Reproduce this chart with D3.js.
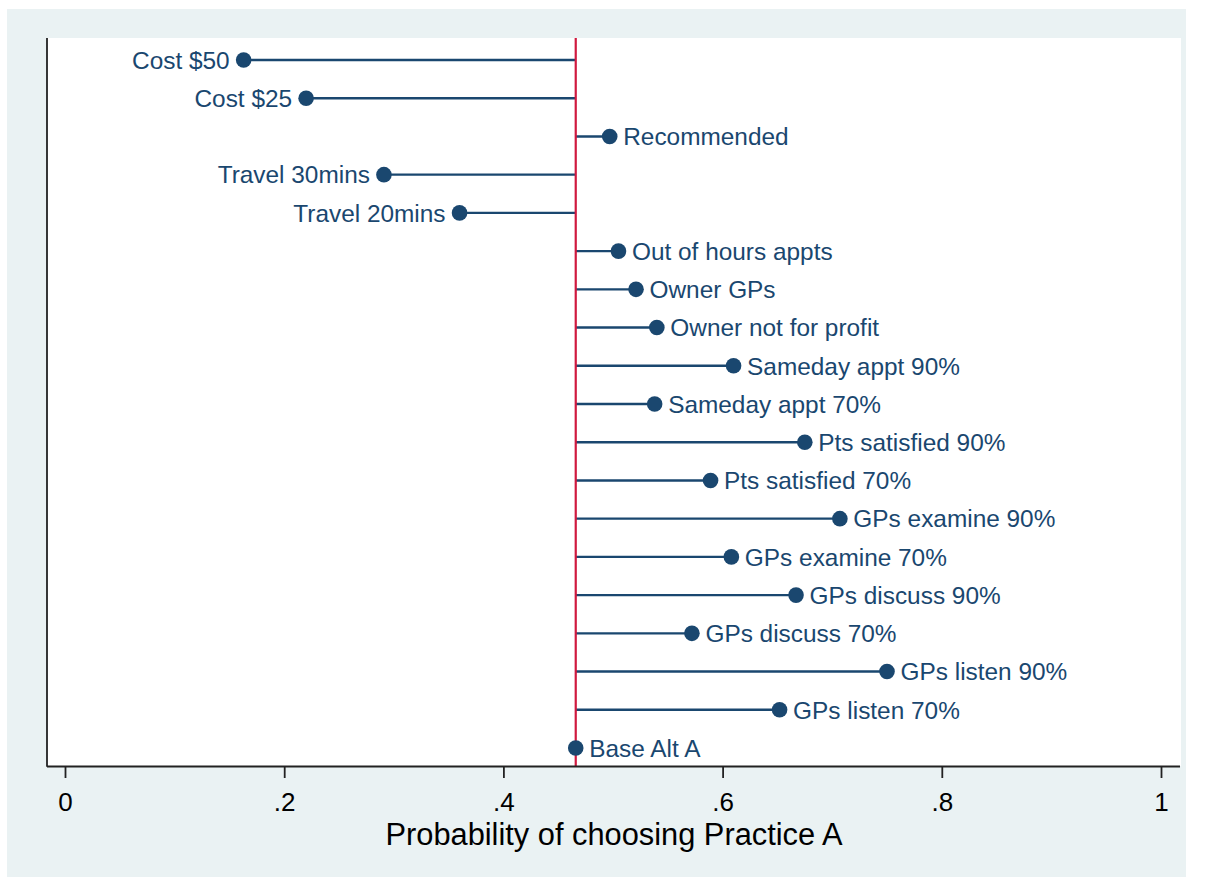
<!DOCTYPE html>
<html>
<head>
<meta charset="utf-8">
<script src="https://cdn.jsdelivr.net/npm/d3@7"></script>
<style>
  html, body { margin: 0; padding: 0; background: #ffffff; }
  svg { display: block; }
  text { font-family: "Liberation Sans", Arial, Helvetica, sans-serif; }
</style>
</head>
<body>
<svg id="chart" width="1205" height="880"></svg>
<script>
// ---- data ----
const categories = [
  "Cost $50", "Cost $25", "Recommended", "Travel 30mins", "Travel 20mins",
  "Out of hours appts", "Owner GPs", "Owner not for profit",
  "Sameday appt 90%", "Sameday appt 70%", "Pts satisfied 90%", "Pts satisfied 70%",
  "GPs examine 90%", "GPs examine 70%", "GPs discuss 90%", "GPs discuss 70%",
  "GPs listen 90%", "GPs listen 70%", "Base Alt A"
];
const probabilities = [
  0.163, 0.220, 0.497, 0.291, 0.360,
  0.505, 0.521, 0.540,
  0.610, 0.538, 0.675, 0.589,
  0.707, 0.608, 0.667, 0.572,
  0.750, 0.652, 0.466
];
const baseValue = 0.466;
const xTicks = [0, 0.2, 0.4, 0.6, 0.8, 1];
const xTickLabels = ["0", ".2", ".4", ".6", ".8", "1"];
const xTitle = "Probability of choosing Practice A";

// ---- layout ----
const svg = d3.select("#chart");
const navy = "#1a476f";
const red = "#d0193f";
const plot = { left: 47, right: 1181, top: 38, bottom: 766 };

svg.append("rect").attr("x", 7).attr("y", 9).attr("width", 1179).attr("height", 868)
  .attr("fill", "#eaf2f3");
svg.append("rect").attr("x", plot.left).attr("y", plot.top)
  .attr("width", plot.right - plot.left).attr("height", plot.bottom - plot.top)
  .attr("fill", "#ffffff");

const x = d3.scaleLinear().domain([0, 1]).range([65, 1161]);
const y = d3.scalePoint().domain(categories).range([60, 748]);

const data = categories.map((c, i) => ({ cat: c, v: probabilities[i] }));

// stems
svg.append("g").selectAll("line").data(data.filter(d => d.cat !== "Base Alt A")).join("line")
  .attr("x1", x(baseValue)).attr("x2", d => x(d.v))
  .attr("y1", d => y(d.cat)).attr("y2", d => y(d.cat))
  .attr("stroke", navy).attr("stroke-width", 2.4);

// base reference line
svg.append("line")
  .attr("x1", x(baseValue)).attr("x2", x(baseValue))
  .attr("y1", plot.top).attr("y2", plot.bottom)
  .attr("stroke", red).attr("stroke-width", 2.2);

// dots
svg.append("g").selectAll("circle").data(data).join("circle")
  .attr("cx", d => x(d.v)).attr("cy", d => y(d.cat)).attr("r", 7.8)
  .attr("fill", navy);

// labels
svg.append("g").selectAll("text").data(data).join("text")
  .attr("x", d => d.v < baseValue ? x(d.v) - 14 : x(d.v) + 13.5)
  .attr("y", d => y(d.cat) + 8.8)
  .attr("text-anchor", d => d.v < baseValue ? "end" : "start")
  .attr("font-size", "24.4px")
  .attr("fill", navy)
  .text(d => d.cat);

// axes
const axisColor = "#222222";
svg.append("line").attr("x1", plot.left).attr("x2", plot.left)
  .attr("y1", plot.top).attr("y2", plot.bottom + 0.75)
  .attr("stroke", axisColor).attr("stroke-width", 1.8);

const xAxis = d3.axisBottom(x).tickValues(xTicks)
  .tickFormat((d, i) => xTickLabels[i]).tickSize(12).tickPadding(6);
const gx = svg.append("g").attr("transform", `translate(0,${plot.bottom})`).call(xAxis);
gx.select(".domain").attr("d", `M${plot.left},0.5H${plot.right - 1}`)
  .attr("stroke", axisColor).attr("stroke-width", 1.8);
gx.selectAll(".tick line").attr("stroke", axisColor).attr("stroke-width", 1.8);
gx.selectAll(".tick text").attr("font-size", "26px").attr("fill", "#000")
  .attr("font-family", "'Liberation Sans', Arial, sans-serif")
  .attr("dy", null).attr("y", 45);

svg.append("text").attr("x", (plot.left + plot.right) / 2).attr("y", 845)
  .attr("text-anchor", "middle").attr("font-size", "30.8px").attr("fill", "#000")
  .text(xTitle);
</script>
</body>
</html>
